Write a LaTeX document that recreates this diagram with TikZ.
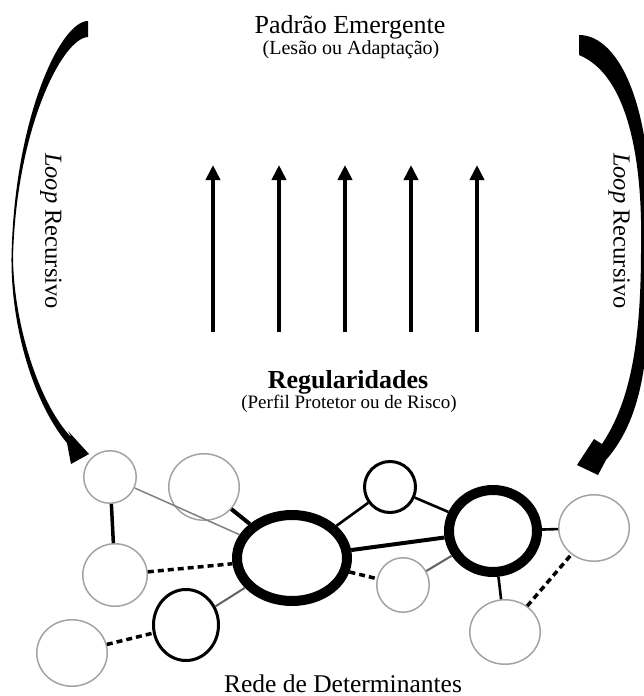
\documentclass[tikz,border=0pt]{standalone}
\usepackage{fontspec}
\setmainfont{Liberation Serif}
\usepackage{tikz}
\usetikzlibrary{arrows.meta,shapes.geometric}
\definecolor{ringgray}{rgb}{0.64,0.64,0.64}
\definecolor{linkgray}{rgb}{0.38,0.38,0.38}

\begin{document}
\begin{tikzpicture}[x=1pt, y=-1pt,
  faint/.style = {ellipse, draw=ringgray, line width=1.5pt, inner sep=0pt},
  plain/.style = {ellipse, draw, line width=3pt, inner sep=0pt},
  hub/.style = {ellipse, draw, line width=10pt, inner sep=0pt},
  heavylink/.style = {line width=4pt},
  midlink/.style = {line width=2.6pt},
  greylink/.style = {line width=2pt, draw=linkgray},
  dotlink/.style = {line width=3.5pt, dash pattern=on 6pt off 4pt},
  uparrow/.style = {line width=4pt, -{Triangle[length=15pt, width=14pt]}}]

\useasboundingbox (0,0) rectangle (644,696);
\clip (0,0) rectangle (644,696);

\node (emerg) at (350,33) [anchor=base, font=\fontsize{26}{30}\selectfont] {Padrão Emergente};
\node (lesao) at (351,54) [anchor=base, font=\fontsize{20}{24}\selectfont] {(Lesão ou Adaptação)};

\foreach \i/\x in {1/213, 2/279, 3/345, 4/411, 5/477} {
  \coordinate (lo\i) at (\x,332);
  \coordinate (hi\i) at (\x,165);
  \draw[uparrow] (lo\i) -- (hi\i);
}

\node (regul) at (348,388) [anchor=base, font=\bfseries\fontsize{26}{30}\selectfont] {Regularidades};
\node (perfil) at (349,408) [anchor=base, font=\fontsize{19}{23}\selectfont] {(Perfil Protetor ou de Risco)};

\node (loopL) at (51,231) [rotate=-90, font=\fontsize{24.5}{28}\selectfont] {\textit{Loop} Recursivo};
\node (loopR) at (619,231) [rotate=-90, font=\fontsize{24.5}{28}\selectfont] {\textit{Loop} Recursivo};

% recursive loops
\fill (88,21) .. controls (60,21) and (14,120) .. (11.5,258)
  .. controls (11,330) and (35,405) .. (67,443)
  -- (71,464) -- (89,454) -- (68,431) -- (72,438)
  .. controls (42,408) and (14,330) .. (13,258)
  .. controls (16,130) and (62,38) .. (88,37) -- cycle;
\fill (579,35) .. controls (620,35) and (656,110) .. (650,250)
  .. controls (650,350) and (645,415) .. (606,460)
  -- (598,475) -- (577,465) -- (594,439) -- (602,444)
  .. controls (628,405) and (641,350) .. (641,250)
  .. controls (643,160) and (628,75) .. (579,55) -- cycle;

\node (a) at (110,477) [faint, minimum width=52.5pt, minimum height=52.5pt] {};
\node (b) at (204,487) [faint, minimum width=70.5pt, minimum height=66.5pt] {};
\node (c) at (115,575) [faint, minimum width=64.5pt, minimum height=62.5pt] {};
\node (d) at (186,625) [plain, minimum width=65pt, minimum height=71pt] {};
\node (e) at (72,653) [faint, minimum width=70.5pt, minimum height=66.5pt] {};
\node (f) at (292,558) [hub, minimum width=110pt, minimum height=86pt] {};
\node (g) at (390,487) [plain, minimum width=51pt, minimum height=51pt] {};
\node (h) at (493,531) [hub, minimum width=88pt, minimum height=82pt] {};
\node (i) at (403,585) [faint, minimum width=52.5pt, minimum height=54.5pt] {};
\node (j) at (594,528) [faint, minimum width=70.5pt, minimum height=66.5pt] {};
\node (k) at (505,632) [faint, minimum width=70.5pt, minimum height=64.5pt] {};

\draw[line width=3.5pt] (a) -- (c);
\draw[line width=1.5pt, draw=gray] (a) -- (f);
\draw[heavylink] (b) -- (f);
\draw[dotlink] (c) -- (f);
\draw[greylink] (d) -- (f);
\draw[dotlink] (e) -- (d);
\draw[midlink] (f) -- (g);
\draw[heavylink] (f) -- (h);
\draw[midlink] (g) -- (h);
\draw[dotlink] (f) -- (i);
\draw[greylink] (i) -- (h);
\draw[midlink] (h) -- (j);
\draw[midlink] (h) -- (k);
\draw[dotlink] (k) -- (j);

\node (rede) at (343,692) [anchor=base, font=\fontsize{25.5}{30}\selectfont] {Rede de Determinantes};

\end{tikzpicture}
\end{document}
